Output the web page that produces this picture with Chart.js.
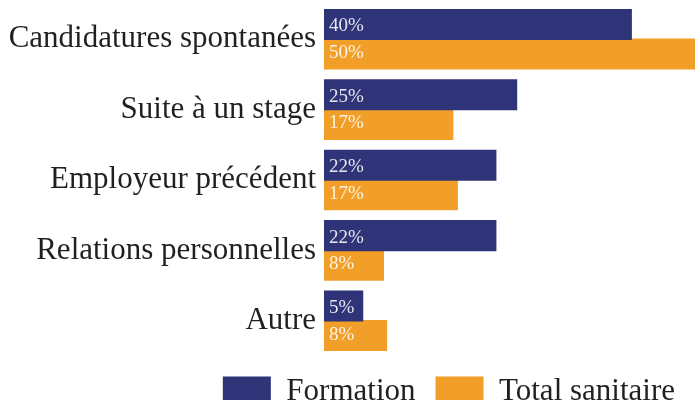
<!DOCTYPE html>
<html>
<head>
<meta charset="utf-8">
<script src="https://cdn.jsdelivr.net/npm/chart.js@4"></script>
<style>
  html, body { margin: 0; padding: 0; background: #fff; }
  #wrap { width: 695px; height: 400px; }
</style>
</head>
<body>
<div id="wrap"><canvas id="myChart"></canvas></div>
<script>
const categories = ['Candidatures spontanées', 'Suite à un stage', 'Employeur précédent', 'Relations personnelles', 'Autre'];
const formation  = [40, 25.1, 22.4, 22.4, 5.1];
const sanitaire  = [50, 16.8, 17.4, 7.8, 8.2];
const formationLabels = ['40%', '25%', '22%', '22%', '5%'];
const sanitaireLabels = ['50%', '17%', '17%', '8%', '8%'];

const SERIF = '"Liberation Serif", "DejaVu Serif", serif';

// etiquettes blanches a gauche dans chaque barre
const barLabels = {
    id: 'barLabels',
    afterDatasetsDraw(chart){
        const ctx = chart.ctx;
        const texts = [formationLabels, sanitaireLabels];
        ctx.save();
        ctx.font = '19px ' + SERIF;
        ctx.textAlign = 'left';
        ctx.textBaseline = 'middle';
        chart.data.datasets.forEach((ds, i) => {
            const meta = chart.getDatasetMeta(i);
            ctx.fillStyle = i === 0 ? 'rgba(240,240,248,0.95)' : 'rgba(255,248,235,0.95)';
            meta.data.forEach((bar, j) => {
                ctx.fillText(texts[i][j], bar.base + 5, bar.y + (i === 0 ? 2 : -1));
            });
        });
        ctx.restore();
    }
};

const myChart = new Chart(document.getElementById('myChart'), {
    type: 'bar',
    data: {
        labels: categories,
        datasets: [{
            label: 'Formation',
            data: formation,
            backgroundColor: '#2f3377',
            categoryPercentage: 0.84,
            barPercentage: 1.05
        }, {
            label: 'Total sanitaire',
            data: sanitaire,
            backgroundColor: '#f29f29',
            categoryPercentage: 0.84,
            barPercentage: 1.05
        }]
    },
    options: {
        indexAxis: 'y',
        responsive: true,
        maintainAspectRatio: false,
        animation: false,
        layout: { padding: { top: 4, right: 0, left: 0, bottom: 0 } },
        scales: {
            x: { display: false, min: 0, max: 48.2 },
            y: {
                grid: { display: false, drawTicks: false },
                border: { display: false },
                ticks: {
                    padding: 8,
                    color: '#231f20',
                    font: { family: SERIF, size: 31 }
                },
                afterFit(scale){
                    scale.width = 324;
                    scale.paddingTop = 0;
                    scale.paddingBottom = 0;
                }
            }
        },
        plugins: {
            tooltip: { enabled: false },
            legend: {
                position: 'bottom',
                align: 'end',
                maxHeight: 44,
                labels: {
                    boxWidth: 48,
                    boxHeight: 30,
                    padding: 20,
                    color: '#231f20',
                    font: { family: SERIF, size: 31 }
                }
            }
        }
    },
    plugins: [barLabels]
});
</script>
</body>
</html>
